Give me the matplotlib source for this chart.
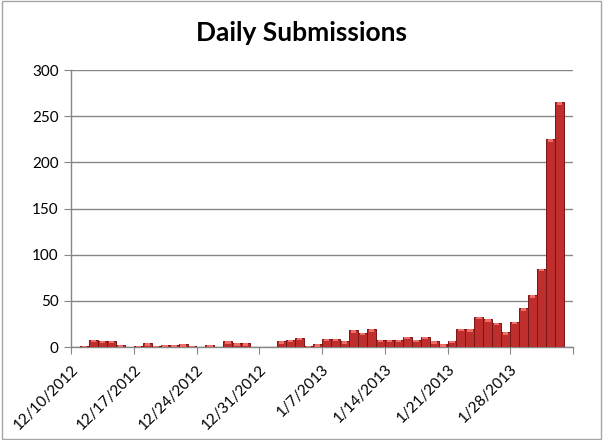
import numpy as np
import pandas as pd
import matplotlib
matplotlib.use('Agg')
import matplotlib.pyplot as plt
import matplotlib.dates as mdates
from matplotlib.patches import Rectangle

# daily submission counts, starting 12/10/2012
start_date = '2012-12-10'
counts = [0, 1, 8, 7, 7, 2, 0, 1, 4, 1, 2, 2, 3, 1, 0, 2, 0, 6, 4, 4,
          0, 0, 0, 6, 8, 10, 1, 3, 9, 9, 6, 18, 15, 19, 8, 8, 8, 11, 8, 11,
          6, 3, 7, 20, 19, 33, 30, 26, 16, 27, 42, 56, 85, 225, 265]
tick_dates = ['2012-12-10', '2012-12-17', '2012-12-24', '2012-12-31',
              '2013-01-07', '2013-01-14', '2013-01-21', '2013-01-28', '2013-02-04']
tick_labels = ['12/10/2012', '12/17/2012', '12/24/2012', '12/31/2012',
               '1/7/2013', '1/14/2013', '1/21/2013', '1/28/2013', '']
y_ticks = [0, 50, 100, 150, 200, 250, 300]

plt.rcParams['font.family'] = ['Lato', 'DejaVu Sans']

dates = pd.date_range(start_date, periods=len(counts), freq='D')
x = mdates.date2num(dates)
ticks_x = mdates.date2num(pd.to_datetime(tick_dates))

fig = plt.figure(figsize=(6.03, 4.40), dpi=100)
ax = fig.add_axes([71/603, 93/440, 502/603, 277/440])

# main bars + a light strip on top for the bevel look
ax.bar(x, counts, width=1.0, align='edge', color='#BE2E2C',
       edgecolor='#7A1414', linewidth=0.7, zorder=3)
cnt = np.array(counts, dtype=float)
top_h = np.minimum(cnt, 2.5)
ax.bar(x + 0.2, top_h, bottom=cnt - top_h, width=0.6, align='edge',
       color='#EE6E6A', linewidth=0, zorder=4)

ax.set_xlim(ticks_x[0], ticks_x[-1])
ax.set_ylim(0, 300)
ax.set_yticks(y_ticks)
ax.set_xticks(ticks_x)
ax.set_xticklabels(tick_labels, rotation=45, ha='right', va='top',
                   rotation_mode='anchor', fontsize=11)
ax.tick_params(axis='y', labelsize=11, length=5, color='#868686', pad=4)
ax.tick_params(axis='x', length=5, color='#868686', pad=6)
ax.yaxis.grid(True, color='#868686', linewidth=1.0, zorder=0)
ax.set_axisbelow(True)

for side in ['top', 'right']:
    ax.spines[side].set_visible(False)
for side in ['left', 'bottom']:
    ax.spines[side].set_color('#868686')
    ax.spines[side].set_linewidth(1.0)

fig.text(0.5, 0.925, 'Daily Submissions', ha='center', va='center',
         fontsize=19, fontweight='bold')

# chart area border
fig.patches.append(Rectangle((0.003, 0.003), 0.994, 0.994, transform=fig.transFigure,
                             fill=False, edgecolor='#A6A6A6', linewidth=1.0))

fig.savefig('out.png', dpi=100)
